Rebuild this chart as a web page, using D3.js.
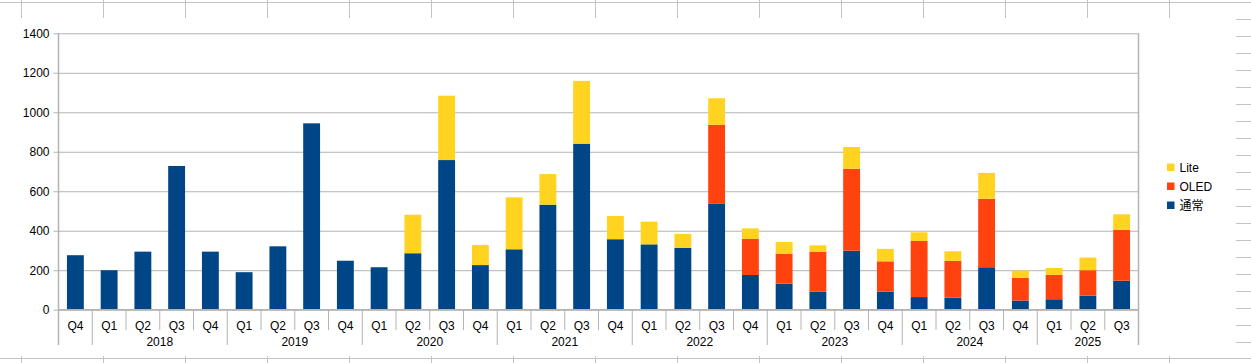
<!DOCTYPE html>
<html>
<head>
<meta charset="utf-8">
<script src="https://cdn.jsdelivr.net/npm/d3@7"></script>
<style>
  html, body { margin: 0; padding: 0; background: #ffffff; }
  svg { display: block; }
</style>
</head>
<body>
<script>
// quarterly units, stacked bottom -> top: 通常, OLED, Lite
const quarters = ["Q4","Q1","Q2","Q3","Q4","Q1","Q2","Q3","Q4","Q1","Q2","Q3","Q4","Q1","Q2","Q3",
                  "Q4","Q1","Q2","Q3","Q4","Q1","Q2","Q3","Q4","Q1","Q2","Q3","Q4","Q1","Q2","Q3"];
const years = ["","2018","2018","2018","2018","2019","2019","2019","2019","2020","2020","2020","2020",
               "2021","2021","2021","2021","2022","2022","2022","2022","2023","2023","2023","2023",
               "2024","2024","2024","2024","2025","2025","2025"];
const regular = [276,200,294,728,294,190,321,944,248,215,286,758,226,306,532,841,
                 357,331,314,536,176,132,91,299,91,64,61,215,46,53,71,147];
const oled    = [0,0,0,0,0,0,0,0,0,0,0,0,0,0,0,0,
                 0,0,0,400,182,152,203,415,154,284,186,347,115,123,129,258];
const lite    = [0,0,0,0,0,0,0,0,0,0,195,326,102,263,155,318,
                 118,115,70,135,54,59,32,110,63,44,49,131,37,35,64,78];
const seriesKeys = ["通常","OLED","Lite"];
const yTicks = [0,200,400,600,800,1000,1200,1400];

const width = 1251, height = 363;
const plot = {left: 58.5, right: 1138.5, top: 33.3, bottom: 309.7};
const colors = {"通常": "#004586", "OLED": "#ff420e", "Lite": "#ffd320"};
const font = "'Liberation Sans', Arial, 'Noto Sans CJK JP', sans-serif";

const rows = quarters.map((q, i) => ({id: i, q: q, year: years[i], "通常": regular[i], "OLED": oled[i], "Lite": lite[i]}));

const x = d3.scaleBand().domain(rows.map(d => d.id)).range([plot.left, plot.right]).padding(0);
const y = d3.scaleLinear().domain([0, 1400]).range([plot.bottom, plot.top]);

const svg = d3.select("body").append("svg")
  .attr("width", width).attr("height", height)
  .style("font-family", font);

// spreadsheet grid behind the chart object
const sheet = svg.append("g").attr("stroke", "#c3c3c3").attr("stroke-width", 1);
sheet.append("line").attr("x1", 0).attr("x2", width).attr("y1", 2.5).attr("y2", 2.5);
sheet.append("line").attr("x1", 0).attr("x2", width).attr("y1", 358.5).attr("y2", 358.5);
d3.range(21.5, 1200, 82).forEach(cx => {
  sheet.append("line").attr("x1", cx).attr("x2", cx).attr("y1", 0).attr("y2", 18);
  sheet.append("line").attr("x1", cx).attr("x2", cx).attr("y1", 356).attr("y2", height);
});
d3.range(19.5, 345, 17).forEach(cy => {
  sheet.append("line").attr("x1", 1236).attr("x2", width).attr("y1", cy).attr("y2", cy);
});

// horizontal grid
svg.append("g")
  .attr("transform", `translate(${plot.left},0)`)
  .call(d3.axisLeft(y).tickValues(yTicks).tickSize(-(plot.right - plot.left)).tickFormat(""))
  .call(g => g.select(".domain").remove())
  .call(g => g.selectAll(".tick line").attr("stroke", "#b3b3b3"));

// y axis labels + outer ticks
svg.append("g")
  .attr("transform", `translate(${plot.left},0)`)
  .call(d3.axisLeft(y).tickValues(yTicks).tickSize(5).tickPadding(4).tickFormat(d3.format("d")))
  .call(g => g.select(".domain").remove())
  .call(g => g.selectAll(".tick line").attr("stroke", "#b3b3b3"))
  .call(g => g.selectAll(".tick text").attr("fill", "#000").attr("font-size", "12px").style("font-family", font));

// stacked bars
const stacked = d3.stack().keys(seriesKeys)(rows);
const bw = x.bandwidth() / 2;
svg.append("g").selectAll("g").data(stacked).join("g")
  .attr("fill", s => colors[s.key])
  .selectAll("rect").data(s => s.filter(d => d[1] - d[0] > 0)).join("rect")
  .attr("x", d => x(d.data.id) + bw / 2)
  .attr("width", bw)
  .attr("y", d => y(d[1]))
  .attr("height", d => y(d[0]) - y(d[1]));

// frame lines
const frame = svg.append("g").attr("stroke", "#b3b3b3");
frame.append("line").attr("x1", plot.left).attr("x2", plot.left).attr("y1", plot.top).attr("y2", 345).attr("stroke-width", 1.5);
frame.append("line").attr("x1", plot.right).attr("x2", plot.right).attr("y1", plot.top).attr("y2", 345).attr("stroke-width", 1.5);
frame.append("line").attr("x1", plot.left).attr("x2", plot.right).attr("y1", plot.bottom).attr("y2", plot.bottom).attr("stroke-width", 1.5);

// quarter labels
svg.append("g")
  .attr("transform", `translate(0,${plot.bottom})`)
  .call(d3.axisBottom(x).tickSize(0).tickPadding(12).tickFormat(i => quarters[i]))
  .call(g => g.select(".domain").remove())
  .call(g => g.selectAll(".tick text").attr("fill", "#000").attr("font-size", "12px").style("font-family", font));

// year groups from consecutive runs
const groups = [];
rows.forEach(d => {
  const last = groups[groups.length - 1];
  if (last && last.year === d.year) last.ids.push(d.id);
  else groups.push({year: d.year, ids: [d.id]});
});
const groupStarts = new Set(groups.map(g => g.ids[0]));

// category separators
svg.append("g").selectAll("line").data(rows.slice(1)).join("line")
  .attr("x1", d => x(d.id)).attr("x2", d => x(d.id))
  .attr("y1", plot.bottom).attr("y2", d => groupStarts.has(d.id) ? 345 : 330)
  .attr("stroke", "#b3b3b3").attr("stroke-width", 1);

// year labels
svg.append("g").selectAll("text").data(groups).join("text")
  .attr("x", g => (x(g.ids[0]) + x(g.ids[g.ids.length - 1]) + x.bandwidth()) / 2)
  .attr("y", 345.5)
  .attr("text-anchor", "middle")
  .attr("font-size", "12px")
  .attr("fill", "#000")
  .text(g => g.year);

// legend (top series first)
const legend = svg.append("g").attr("transform", "translate(1167,167)");
seriesKeys.slice().reverse().forEach((k, i) => {
  const row = legend.append("g").attr("transform", `translate(0,${i * 19})`);
  row.append("rect").attr("x", 0).attr("y", -3.5).attr("width", 7.5).attr("height", 7.5).attr("fill", colors[k]);
  row.append("text").attr("x", 12.5).attr("y", 4.5).attr("font-size", "12px").attr("fill", "#000").text(k);
});
</script>
</body>
</html>
